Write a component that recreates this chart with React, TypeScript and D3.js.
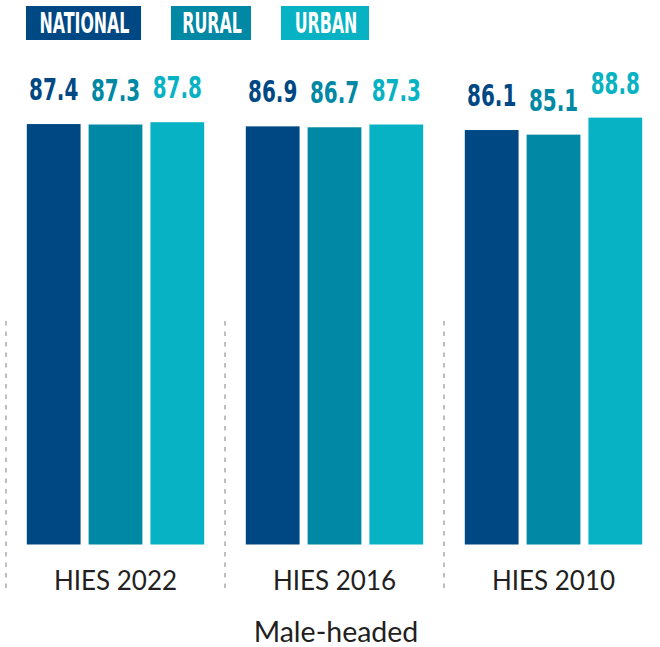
import React from "react";
import * as d3 from "d3";

const categories = ["HIES 2022", "HIES 2016", "HIES 2010"];
const series = ["NATIONAL", "RURAL", "URBAN"];
const national = [87.4, 86.9, 86.1];
const rural = [87.3, 86.7, 85.1];
const urban = [87.8, 87.3, 88.8];
const xAxisTitle = "Male-headed";

const colors = ["#004884", "#0088a4", "#06b2c3"];
const legendWidths = [115, 80, 88];

const W = 660;
const H = 647;
const baseY = 544.5;

export default function App() {
  const values = [national, rural, urban];
  const x0 = d3.scaleBand<string>().domain(categories).range([6, 663]).paddingInner(0.19).paddingOuter(0.095);
  const x1 = d3.scaleBand<string>().domain(series).range([0, x0.bandwidth()]).paddingInner(0.13).paddingOuter(0);
  const y = d3.scaleLinear().domain([-4, 90]).range([baseY, baseY - 4.6 * 94]);
  const step = x0.step();
  const gap = step - x0.bandwidth();

  let lx = 26;
  const legend = series.map((s, i) => {
    const item = { s, x: lx, w: legendWidths[i], c: colors[i] };
    lx += legendWidths[i] + 30;
    return item;
  });

  const condensed = "'DejaVu Sans Condensed', 'DejaVu Sans', sans-serif";
  const sans = "Lato, 'Open Sans', sans-serif";

  return (
    <svg width={W} height={H} style={{ position: "absolute", left: 0, top: 0, background: "#fff" }}>
      {legend.map((l) => (
        <g key={l.s}>
          <rect x={l.x} y={6} width={l.w} height={34} fill={l.c} />
          <text
            transform={`translate(${l.x + l.w / 2 + 1},33) scale(0.64,1)`}
            textAnchor="middle"
            fill="#fff"
            fontFamily={condensed}
            fontWeight={700}
            fontSize={27.5}
          >
            {l.s}
          </text>
        </g>
      ))}
      {categories.map((c, ci) => {
        const gx = x0(c)!;
        const dx = gx - gap / 2;
        return (
          <g key={c}>
            <line x1={dx} x2={dx} y1={321} y2={594} stroke="#a7a9ac" strokeWidth={1.5} strokeDasharray="4.5 6" />
            {series.map((s, si) => {
              const v = values[si][ci];
              const bx = gx + x1(s)!;
              const bw = x1.bandwidth();
              return (
                <g key={s}>
                  <rect x={bx} y={y(v)} width={bw} height={baseY - y(v)} fill={colors[si]} />
                  <text
                    transform={`translate(${bx + bw / 2},${y(v) - 24}) scale(0.74,1)`}
                    textAnchor="middle"
                    fill={colors[si]}
                    fontFamily={condensed}
                    fontWeight={700}
                    fontSize={30}
                  >
                    {v.toFixed(1)}
                  </text>
                </g>
              );
            })}
            <text x={gx + x0.bandwidth() / 2} y={590} textAnchor="middle" fill="#231f20" fontFamily={sans} fontSize={26}>
              {c}
            </text>
          </g>
        );
      })}
      <text x={336} y={642} textAnchor="middle" fill="#231f20" fontFamily={sans} fontSize={28.5}>
        {xAxisTitle}
      </text>
    </svg>
  );
}
